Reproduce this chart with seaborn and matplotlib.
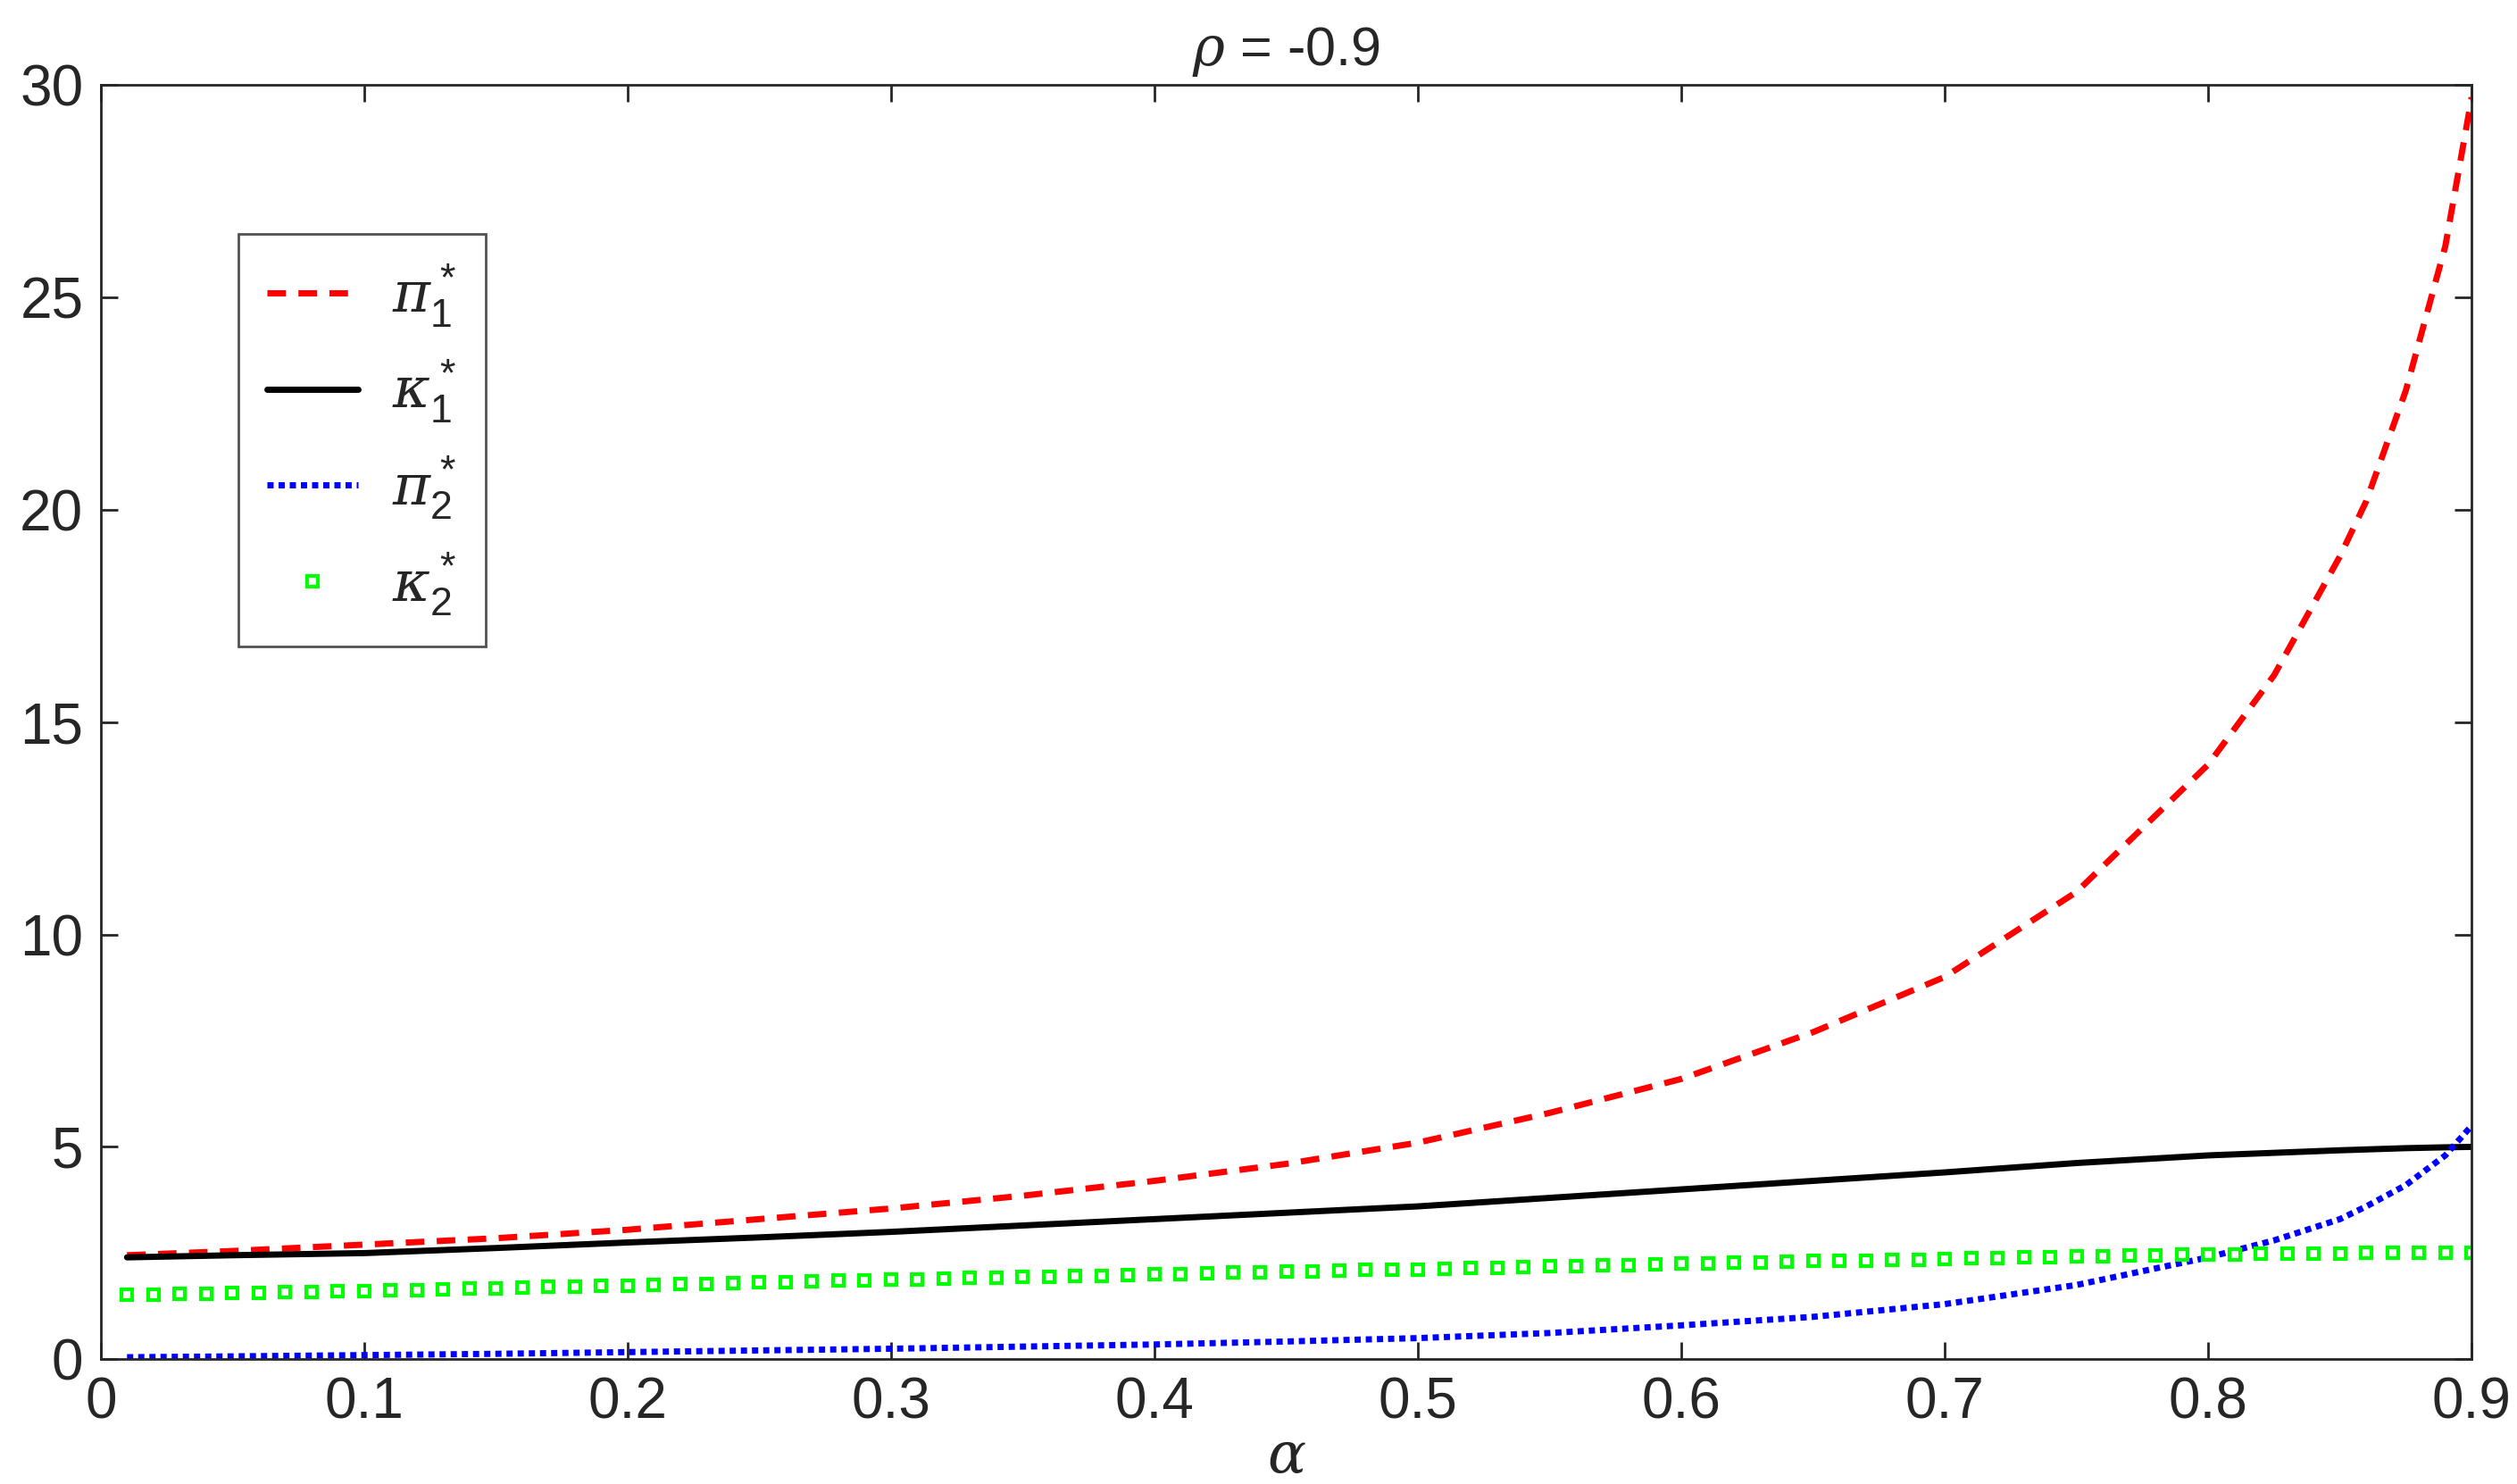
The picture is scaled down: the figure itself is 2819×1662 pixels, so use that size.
import numpy as np
import pandas as pd
import matplotlib
matplotlib.use("Agg")
import matplotlib.pyplot as plt
import seaborn as sns

# values
alpha = [0.01, 0.05, 0.1, 0.15, 0.2, 0.25, 0.3, 0.35, 0.4, 0.45, 0.5,
         0.55, 0.6, 0.65, 0.7, 0.75, 0.8, 0.825, 0.85, 0.86, 0.875, 0.89, 0.9]
pi1 = [2.45, 2.55, 2.7, 2.85, 3.05, 3.3, 3.55, 3.85, 4.2, 4.6, 5.1,
       5.8, 6.6, 7.7, 9.0, 11.0, 14.0, 16.1, 18.9, 20.2, 22.8, 26.2, 29.7]
kappa1 = [2.4, 2.45, 2.5, 2.62, 2.75, 2.87, 3.0, 3.15, 3.3, 3.45, 3.6,
          3.8, 4.0, 4.2, 4.4, 4.62, 4.8, 4.86, 4.92, 4.94, 4.97, 4.99, 5.0]
pi2 = [0.05, 0.07, 0.1, 0.13, 0.17, 0.21, 0.25, 0.3, 0.35, 0.42, 0.5,
       0.62, 0.8, 1.0, 1.3, 1.75, 2.4, 2.8, 3.3, 3.6, 4.1, 4.8, 5.5]

alpha_k2 = [round(0.01 * i, 2) for i in range(1, 91)]
kappa2 = [1.52, 1.53, 1.54, 1.55, 1.56, 1.57, 1.58, 1.59, 1.60, 1.61,
          1.62, 1.63, 1.65, 1.66, 1.67, 1.69, 1.70, 1.71, 1.73, 1.74,
          1.75, 1.77, 1.78, 1.79, 1.81, 1.82, 1.83, 1.85, 1.86, 1.87,
          1.88, 1.90, 1.91, 1.92, 1.94, 1.95, 1.96, 1.97, 1.99, 2.00,
          2.01, 2.02, 2.04, 2.05, 2.06, 2.07, 2.09, 2.10, 2.11, 2.12,
          2.14, 2.15, 2.16, 2.17, 2.19, 2.20, 2.21, 2.22, 2.24, 2.25,
          2.26, 2.27, 2.28, 2.30, 2.31, 2.32, 2.33, 2.34, 2.35, 2.37,
          2.38, 2.39, 2.40, 2.41, 2.42, 2.43, 2.44, 2.45, 2.46, 2.47,
          2.47, 2.48, 2.48, 2.49, 2.49, 2.50, 2.50, 2.50, 2.50, 2.50]

df = pd.DataFrame({"alpha": alpha, "pi1": pi1, "kappa1": kappa1, "pi2": pi2})
dk = pd.DataFrame({"alpha": alpha_k2, "kappa2": kappa2})

sns.set_theme(style="white")
plt.rcParams["font.family"] = ["Liberation Sans", "DejaVu Sans"]
plt.rcParams["mathtext.fontset"] = "custom"
plt.rcParams["mathtext.rm"] = "Liberation Sans"
plt.rcParams["mathtext.it"] = "DejaVu Serif:italic"

fig, ax = plt.subplots(figsize=(28.19, 16.62), dpi=100)
fig.subplots_adjust(left=0.04, right=0.982, top=0.943, bottom=0.084)

sns.lineplot(data=df, x="alpha", y="pi1", ax=ax, color="red", lw=5,
             linestyle=(0, (3, 2)), label=r"$\pi_{\rm 1}^{\rm *}$")
sns.lineplot(data=df, x="alpha", y="kappa1", ax=ax, color="black", lw=5,
             label=r"$\kappa_{\rm 1}^{\rm *}$")
sns.lineplot(data=df, x="alpha", y="pi2", ax=ax, color="blue", lw=5,
             linestyle=(0, (1, 0.8)), label=r"$\pi_{\rm 2}^{\rm *}$")
ax.plot(dk["alpha"], dk["kappa2"], ls="none", marker="s", ms=9,
        mfc="white", mec="#00ff00", mew=3, label=r"$\kappa_{\rm 2}^{\rm *}$")

ax.set_xlim(0, 0.9)
ax.set_ylim(0, 30)
ax.set_xticks(np.arange(0, 0.91, 0.1))
ax.set_xticklabels(["0", "0.1", "0.2", "0.3", "0.4", "0.5", "0.6", "0.7", "0.8", "0.9"])
ax.set_yticks(range(0, 31, 5))
ax.tick_params(labelsize=46, direction="in", length=14, width=2,
               top=True, right=True, bottom=True, left=True, pad=14)
for s in ax.spines.values():
    s.set_linewidth(2)
    s.set_color("#262626")
ax.set_xlabel(r"$\alpha$", fontsize=46, labelpad=0)
ax.set_ylabel("")
ax.set_title(r"$\rho$ = -0.9", fontsize=44, pad=16)

leg = ax.legend(loc="upper left", bbox_to_anchor=(0.046, 0.905), fontsize=46,
                frameon=True, fancybox=False, edgecolor="#262626",
                handlelength=1.6, labelspacing=0.5, borderpad=0.5,
                handletextpad=0.6)
leg.get_frame().set_linewidth(2)

fig.savefig("out.png", dpi=100)
